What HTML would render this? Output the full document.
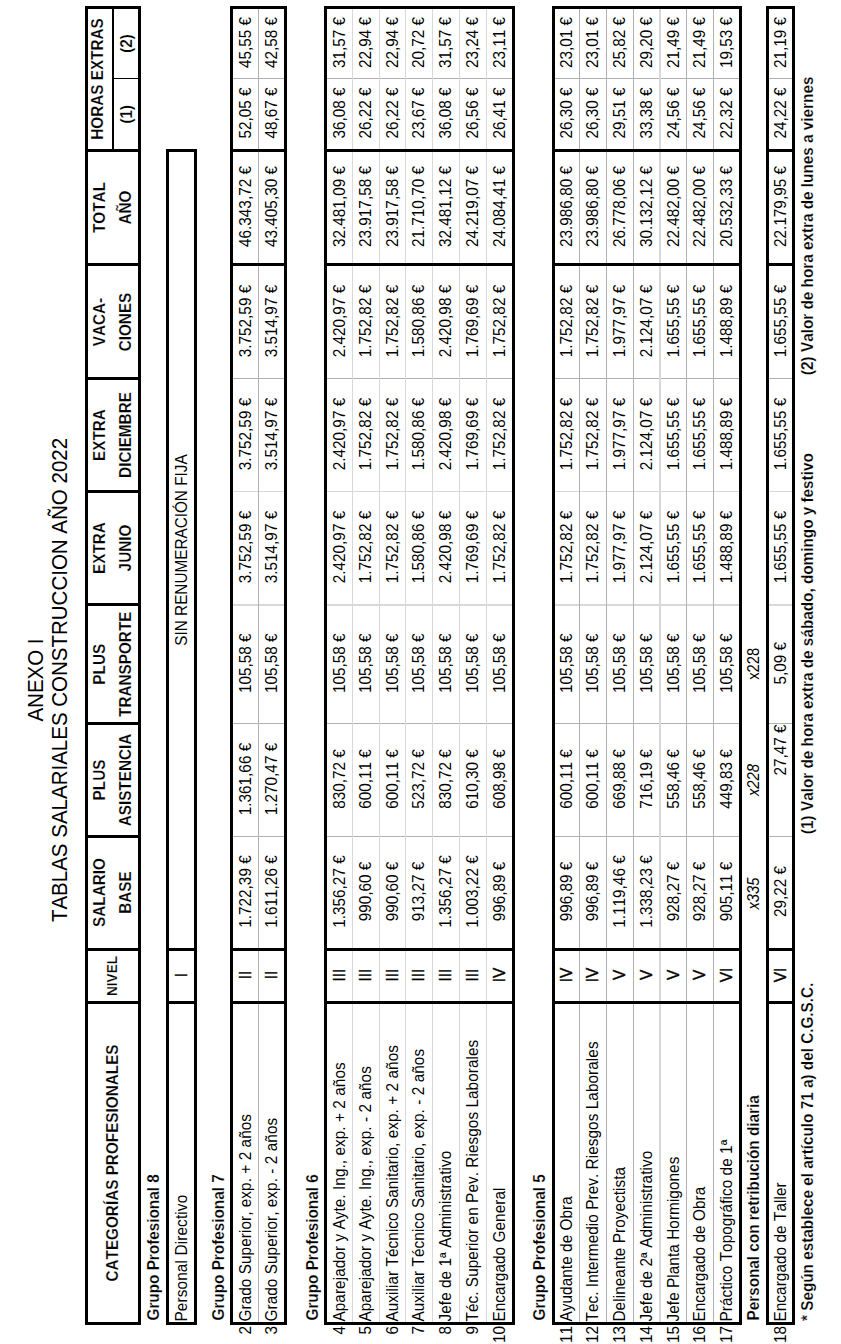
<!DOCTYPE html>
<html><head><meta charset="utf-8"><title>Anexo I - Tablas salariales construcción 2022</title>
<style>
html,body{margin:0;padding:0;background:#fff;width:841px;height:1344px;overflow:hidden}
#pg{position:absolute;left:0;top:0;width:1344px;height:841px;transform-origin:0 0;transform:translateY(1344px) rotate(-90deg);font-family:"Liberation Sans", Arial, sans-serif;color:#000}
#pg div,#pg p{position:absolute;margin:0;padding:0}
#pg p{white-space:nowrap;font-kerning:none}
</style></head><body>
<div id="pg">
<p style="left:300px;top:26.25px;width:728px;font-size:20.5px;line-height:20.5px;text-align:center;transform:scaleY(1.05);transform-origin:0 17.75px;">ANEXO I</p>
<p style="left:300px;top:50.35px;width:728px;font-size:20.5px;line-height:20.5px;text-align:center;transform:scaleY(1.05);transform-origin:0 17.75px;">TABLAS SALARIALES CONSTRUCCION AÑO 2022</p>
<div style="left:19px;top:84.5px;width:1319px;height:3px;background:#000"></div>
<div style="left:19px;top:138px;width:1319px;height:3px;background:#000"></div>
<div style="left:19px;top:84.5px;width:3px;height:56.5px;background:#000"></div>
<div style="left:1335px;top:84.5px;width:3px;height:56.5px;background:#000"></div>
<div style="left:340px;top:84.5px;width:3px;height:56.5px;background:#000"></div>
<div style="left:393px;top:84.5px;width:3px;height:56.5px;background:#000"></div>
<div style="left:506px;top:84.5px;width:3px;height:56.5px;background:#000"></div>
<div style="left:619px;top:84.5px;width:3px;height:56.5px;background:#000"></div>
<div style="left:738px;top:84.5px;width:3px;height:56.5px;background:#000"></div>
<div style="left:851px;top:84.5px;width:3px;height:56.5px;background:#000"></div>
<div style="left:964px;top:84.5px;width:3px;height:56.5px;background:#000"></div>
<div style="left:1078px;top:84.5px;width:3px;height:56.5px;background:#000"></div>
<div style="left:1192px;top:84.5px;width:3px;height:56.5px;background:#000"></div>
<div style="left:1195px;top:112px;width:140px;height:1.5px;background:#000"></div>
<div style="left:1264.5px;top:112px;width:1.3px;height:29px;background:#000"></div>
<p style="left:22px;top:104.85px;width:318px;font-size:15.3px;line-height:15.3px;text-align:center;transform:scaleY(1.08);transform-origin:0 13.15px;font-weight:bold;-webkit-text-stroke:0.18px #fff;">CATEGORÍAS PROFESIONALES</p>
<p style="left:343px;top:105.90px;width:50px;font-size:13.6px;line-height:13.6px;text-align:center;transform:scaleY(1.08);transform-origin:0 11.30px;font-weight:bold;-webkit-text-stroke:0.18px #fff;">NIVEL</p>
<p style="left:396px;top:91.65px;width:111px;font-size:15.3px;line-height:15.3px;text-align:center;transform:scaleY(1.08);transform-origin:0 13.15px;font-weight:bold;-webkit-text-stroke:0.18px #fff;">SALARIO</p>
<p style="left:396px;top:118.45px;width:111px;font-size:15.3px;line-height:15.3px;text-align:center;transform:scaleY(1.08);transform-origin:0 13.15px;font-weight:bold;-webkit-text-stroke:0.18px #fff;">BASE</p>
<p style="left:508px;top:91.65px;width:112px;font-size:15.3px;line-height:15.3px;text-align:center;transform:scaleY(1.08);transform-origin:0 13.15px;font-weight:bold;-webkit-text-stroke:0.18px #fff;">PLUS</p>
<p style="left:508px;top:118.45px;width:112px;font-size:15.3px;line-height:15.3px;text-align:center;transform:scaleY(1.08);transform-origin:0 13.15px;font-weight:bold;-webkit-text-stroke:0.18px #fff;">ASISTENCIA</p>
<p style="left:621px;top:91.65px;width:117.5px;font-size:15.3px;line-height:15.3px;text-align:center;transform:scaleY(1.08);transform-origin:0 13.15px;font-weight:bold;-webkit-text-stroke:0.18px #fff;">PLUS</p>
<p style="left:621px;top:118.45px;width:117.5px;font-size:15.3px;line-height:15.3px;text-align:center;transform:scaleY(1.08);transform-origin:0 13.15px;font-weight:bold;-webkit-text-stroke:0.18px #fff;">TRANSPORTE</p>
<p style="left:740px;top:91.65px;width:112px;font-size:15.3px;line-height:15.3px;text-align:center;transform:scaleY(1.08);transform-origin:0 13.15px;font-weight:bold;-webkit-text-stroke:0.18px #fff;">EXTRA</p>
<p style="left:740px;top:118.45px;width:112px;font-size:15.3px;line-height:15.3px;text-align:center;transform:scaleY(1.08);transform-origin:0 13.15px;font-weight:bold;-webkit-text-stroke:0.18px #fff;">JUNIO</p>
<p style="left:853px;top:91.65px;width:112px;font-size:15.3px;line-height:15.3px;text-align:center;transform:scaleY(1.08);transform-origin:0 13.15px;font-weight:bold;-webkit-text-stroke:0.18px #fff;">EXTRA</p>
<p style="left:853px;top:118.45px;width:112px;font-size:15.3px;line-height:15.3px;text-align:center;transform:scaleY(1.08);transform-origin:0 13.15px;font-weight:bold;-webkit-text-stroke:0.18px #fff;">DICIEMBRE</p>
<p style="left:966px;top:91.65px;width:112px;font-size:15.3px;line-height:15.3px;text-align:center;transform:scaleY(1.08);transform-origin:0 13.15px;font-weight:bold;-webkit-text-stroke:0.18px #fff;">VACA-</p>
<p style="left:966px;top:118.45px;width:112px;font-size:15.3px;line-height:15.3px;text-align:center;transform:scaleY(1.08);transform-origin:0 13.15px;font-weight:bold;-webkit-text-stroke:0.18px #fff;">CIONES</p>
<p style="left:1081px;top:91.65px;width:111px;font-size:15.3px;line-height:15.3px;text-align:center;transform:scaleY(1.08);transform-origin:0 13.15px;font-weight:bold;-webkit-text-stroke:0.18px #fff;">TOTAL</p>
<p style="left:1081px;top:118.45px;width:111px;font-size:15.3px;line-height:15.3px;text-align:center;transform:scaleY(1.08);transform-origin:0 13.15px;font-weight:bold;-webkit-text-stroke:0.18px #fff;">AÑO</p>
<p style="left:1195px;top:90.15px;width:140px;font-size:15.3px;line-height:15.3px;text-align:center;transform:scaleY(1.08);transform-origin:0 13.15px;font-weight:bold;-webkit-text-stroke:0.18px #fff;">HORAS EXTRAS</p>
<p style="left:1195px;top:118.65px;width:69.5px;font-size:15.3px;line-height:15.3px;text-align:center;transform:scaleY(1.08);transform-origin:0 13.15px;font-weight:bold;-webkit-text-stroke:0.18px #fff;">(1)</p>
<p style="left:1266px;top:118.65px;width:69px;font-size:15.3px;line-height:15.3px;text-align:center;transform:scaleY(1.08);transform-origin:0 13.15px;font-weight:bold;-webkit-text-stroke:0.18px #fff;">(2)</p>
<p style="left:23.5px;top:145.85px;width:576.5px;font-size:15.3px;line-height:15.3px;text-align:left;transform:scaleY(1.08);transform-origin:0 13.15px;font-weight:bold;-webkit-text-stroke:0.18px #fff;">Grupo Profesional 8</p>
<div style="left:19px;top:166.2px;width:1176px;height:3px;background:#000"></div>
<div style="left:19px;top:193.5px;width:1176px;height:3px;background:#000"></div>
<div style="left:19px;top:166.2px;width:3px;height:30.30000000000001px;background:#000"></div>
<div style="left:1192px;top:166.2px;width:3px;height:30.30000000000001px;background:#000"></div>
<div style="left:340px;top:166.2px;width:3px;height:30.30000000000001px;background:#000"></div>
<div style="left:393px;top:166.2px;width:3px;height:30.30000000000001px;background:#000"></div>
<p style="left:22.5px;top:174.05px;width:317.5px;font-size:15.3px;line-height:15.3px;text-align:left;transform:scaleY(1.08);transform-origin:0 13.15px;letter-spacing:0.15px;">Personal Directivo</p>
<p style="left:344px;top:174.05px;width:50px;font-size:15.3px;line-height:15.3px;text-align:center;transform:scaleY(1.08);transform-origin:0 13.15px;-webkit-text-stroke:0.35px #000;">I</p>
<p style="left:396px;top:174.05px;width:796px;font-size:15.3px;line-height:15.3px;text-align:center;transform:scaleY(1.08);transform-origin:0 13.15px;">SIN RENUMERACIÓN FIJA</p>
<p style="left:23.5px;top:211.45px;width:576.5px;font-size:15.3px;line-height:15.3px;text-align:left;transform:scaleY(1.08);transform-origin:0 13.15px;font-weight:bold;-webkit-text-stroke:0.18px #fff;">Grupo Profesional 7</p>
<div style="left:507px;top:230.3px;width:1px;height:56.5px;background:#b0b0b0"></div>
<div style="left:620px;top:230.3px;width:1px;height:56.5px;background:#b0b0b0"></div>
<div style="left:852px;top:230.3px;width:1px;height:56.5px;background:#d8d8d8"></div>
<div style="left:965px;top:230.3px;width:1px;height:56.5px;background:#b0b0b0"></div>
<div style="left:1265px;top:230.3px;width:1px;height:56.5px;background:#b0b0b0"></div>
<div style="left:738px;top:230.3px;width:2px;height:56.5px;background:#d8d8d8"></div>
<div style="left:22px;top:258px;width:1313px;height:1px;background:#b0b0b0"></div>
<div style="left:19px;top:230.3px;width:1319px;height:3px;background:#000"></div>
<div style="left:19px;top:283.8px;width:1319px;height:3px;background:#000"></div>
<div style="left:19px;top:230.3px;width:3px;height:56.5px;background:#000"></div>
<div style="left:1335px;top:230.3px;width:3px;height:56.5px;background:#000"></div>
<div style="left:340px;top:230.3px;width:3px;height:56.5px;background:#000"></div>
<div style="left:393px;top:230.3px;width:3px;height:56.5px;background:#000"></div>
<div style="left:1078px;top:230.3px;width:3px;height:56.5px;background:#000"></div>
<div style="left:1192px;top:230.3px;width:3px;height:56.5px;background:#000"></div>
<p style="left:0px;top:237.65px;width:18px;font-size:15.3px;line-height:15.3px;text-align:right;transform:scaleY(1.08);transform-origin:0 13.15px;">2</p>
<p style="left:22.5px;top:237.65px;width:317.5px;font-size:15.3px;line-height:15.3px;text-align:left;transform:scaleY(1.08);transform-origin:0 13.15px;letter-spacing:0.075px;">Grado Superior, exp. + 2 años</p>
<p style="left:344px;top:237.65px;width:50px;font-size:15.3px;line-height:15.3px;text-align:center;transform:scaleY(1.08);transform-origin:0 13.15px;-webkit-text-stroke:0.35px #000;">II</p>
<p style="left:397px;top:237.65px;width:111px;font-size:15.3px;line-height:15.3px;text-align:center;transform:scaleY(1.08);transform-origin:0 13.15px;">1.722,39 €</p>
<p style="left:509px;top:237.65px;width:112px;font-size:15.3px;line-height:15.3px;text-align:center;transform:scaleY(1.08);transform-origin:0 13.15px;">1.361,66 €</p>
<p style="left:622px;top:237.65px;width:117.5px;font-size:15.3px;line-height:15.3px;text-align:center;transform:scaleY(1.08);transform-origin:0 13.15px;">105,58 €</p>
<p style="left:741px;top:237.65px;width:112px;font-size:15.3px;line-height:15.3px;text-align:center;transform:scaleY(1.08);transform-origin:0 13.15px;">3.752,59 €</p>
<p style="left:854px;top:237.65px;width:112px;font-size:15.3px;line-height:15.3px;text-align:center;transform:scaleY(1.08);transform-origin:0 13.15px;">3.752,59 €</p>
<p style="left:967px;top:237.65px;width:112px;font-size:15.3px;line-height:15.3px;text-align:center;transform:scaleY(1.08);transform-origin:0 13.15px;">3.752,59 €</p>
<p style="left:1082px;top:237.65px;width:111px;font-size:15.3px;line-height:15.3px;text-align:center;transform:scaleY(1.08);transform-origin:0 13.15px;">46.343,72 €</p>
<p style="left:1196px;top:237.65px;width:70px;font-size:15.3px;line-height:15.3px;text-align:center;transform:scaleY(1.08);transform-origin:0 13.15px;">52,05 €</p>
<p style="left:1267px;top:237.65px;width:69px;font-size:15.3px;line-height:15.3px;text-align:center;transform:scaleY(1.08);transform-origin:0 13.15px;">45,55 €</p>
<p style="left:0px;top:264.35px;width:18px;font-size:15.3px;line-height:15.3px;text-align:right;transform:scaleY(1.08);transform-origin:0 13.15px;">3</p>
<p style="left:22.5px;top:264.35px;width:317.5px;font-size:15.3px;line-height:15.3px;text-align:left;transform:scaleY(1.08);transform-origin:0 13.15px;letter-spacing:0.075px;">Grado Superior, exp. - 2 años</p>
<p style="left:344px;top:264.35px;width:50px;font-size:15.3px;line-height:15.3px;text-align:center;transform:scaleY(1.08);transform-origin:0 13.15px;-webkit-text-stroke:0.35px #000;">II</p>
<p style="left:397px;top:264.35px;width:111px;font-size:15.3px;line-height:15.3px;text-align:center;transform:scaleY(1.08);transform-origin:0 13.15px;">1.611,26 €</p>
<p style="left:509px;top:264.35px;width:112px;font-size:15.3px;line-height:15.3px;text-align:center;transform:scaleY(1.08);transform-origin:0 13.15px;">1.270,47 €</p>
<p style="left:622px;top:264.35px;width:117.5px;font-size:15.3px;line-height:15.3px;text-align:center;transform:scaleY(1.08);transform-origin:0 13.15px;">105,58 €</p>
<p style="left:741px;top:264.35px;width:112px;font-size:15.3px;line-height:15.3px;text-align:center;transform:scaleY(1.08);transform-origin:0 13.15px;">3.514,97 €</p>
<p style="left:854px;top:264.35px;width:112px;font-size:15.3px;line-height:15.3px;text-align:center;transform:scaleY(1.08);transform-origin:0 13.15px;">3.514,97 €</p>
<p style="left:967px;top:264.35px;width:112px;font-size:15.3px;line-height:15.3px;text-align:center;transform:scaleY(1.08);transform-origin:0 13.15px;">3.514,97 €</p>
<p style="left:1082px;top:264.35px;width:111px;font-size:15.3px;line-height:15.3px;text-align:center;transform:scaleY(1.08);transform-origin:0 13.15px;">43.405,30 €</p>
<p style="left:1196px;top:264.35px;width:70px;font-size:15.3px;line-height:15.3px;text-align:center;transform:scaleY(1.08);transform-origin:0 13.15px;">48,67 €</p>
<p style="left:1267px;top:264.35px;width:69px;font-size:15.3px;line-height:15.3px;text-align:center;transform:scaleY(1.08);transform-origin:0 13.15px;">42,58 €</p>
<p style="left:23.5px;top:305.05px;width:576.5px;font-size:15.3px;line-height:15.3px;text-align:left;transform:scaleY(1.08);transform-origin:0 13.15px;font-weight:bold;-webkit-text-stroke:0.18px #fff;">Grupo Profesional 6</p>
<div style="left:507px;top:324.3px;width:1px;height:190.2px;background:#b0b0b0"></div>
<div style="left:620px;top:324.3px;width:1px;height:190.2px;background:#b0b0b0"></div>
<div style="left:852px;top:324.3px;width:1px;height:190.2px;background:#d8d8d8"></div>
<div style="left:965px;top:324.3px;width:1px;height:190.2px;background:#b0b0b0"></div>
<div style="left:1265px;top:324.3px;width:1px;height:190.2px;background:#b0b0b0"></div>
<div style="left:738px;top:324.3px;width:2px;height:190.2px;background:#d8d8d8"></div>
<div style="left:22px;top:352px;width:1313px;height:1px;background:#d8d8d8"></div>
<div style="left:22px;top:379px;width:1313px;height:1px;background:#d8d8d8"></div>
<div style="left:22px;top:405px;width:1313px;height:1px;background:#d8d8d8"></div>
<div style="left:22px;top:432px;width:1313px;height:1px;background:#d8d8d8"></div>
<div style="left:22px;top:459px;width:1313px;height:1px;background:#d8d8d8"></div>
<div style="left:22px;top:486px;width:1313px;height:1px;background:#d8d8d8"></div>
<div style="left:19px;top:324.3px;width:1319px;height:3px;background:#000"></div>
<div style="left:19px;top:511.5px;width:1319px;height:3px;background:#000"></div>
<div style="left:19px;top:324.3px;width:3px;height:190.2px;background:#000"></div>
<div style="left:1335px;top:324.3px;width:3px;height:190.2px;background:#000"></div>
<div style="left:340px;top:324.3px;width:3px;height:190.2px;background:#000"></div>
<div style="left:393px;top:324.3px;width:3px;height:190.2px;background:#000"></div>
<div style="left:1078px;top:324.3px;width:3px;height:190.2px;background:#000"></div>
<div style="left:1192px;top:324.3px;width:3px;height:190.2px;background:#000"></div>
<p style="left:0px;top:331.65px;width:18px;font-size:15.3px;line-height:15.3px;text-align:right;transform:scaleY(1.08);transform-origin:0 13.15px;">4</p>
<p style="left:22.5px;top:331.65px;width:317.5px;font-size:15.3px;line-height:15.3px;text-align:left;transform:scaleY(1.08);transform-origin:0 13.15px;letter-spacing:0.075px;">Aparejador y Ayte. Ing., exp. + 2 años</p>
<p style="left:344px;top:331.65px;width:50px;font-size:15.3px;line-height:15.3px;text-align:center;transform:scaleY(1.08);transform-origin:0 13.15px;-webkit-text-stroke:0.35px #000;">III</p>
<p style="left:397px;top:331.65px;width:111px;font-size:15.3px;line-height:15.3px;text-align:center;transform:scaleY(1.08);transform-origin:0 13.15px;">1.356,27 €</p>
<p style="left:509px;top:331.65px;width:112px;font-size:15.3px;line-height:15.3px;text-align:center;transform:scaleY(1.08);transform-origin:0 13.15px;">830,72 €</p>
<p style="left:622px;top:331.65px;width:117.5px;font-size:15.3px;line-height:15.3px;text-align:center;transform:scaleY(1.08);transform-origin:0 13.15px;">105,58 €</p>
<p style="left:741px;top:331.65px;width:112px;font-size:15.3px;line-height:15.3px;text-align:center;transform:scaleY(1.08);transform-origin:0 13.15px;">2.420,97 €</p>
<p style="left:854px;top:331.65px;width:112px;font-size:15.3px;line-height:15.3px;text-align:center;transform:scaleY(1.08);transform-origin:0 13.15px;">2.420,97 €</p>
<p style="left:967px;top:331.65px;width:112px;font-size:15.3px;line-height:15.3px;text-align:center;transform:scaleY(1.08);transform-origin:0 13.15px;">2.420,97 €</p>
<p style="left:1082px;top:331.65px;width:111px;font-size:15.3px;line-height:15.3px;text-align:center;transform:scaleY(1.08);transform-origin:0 13.15px;">32.481,09 €</p>
<p style="left:1196px;top:331.65px;width:70px;font-size:15.3px;line-height:15.3px;text-align:center;transform:scaleY(1.08);transform-origin:0 13.15px;">36,08 €</p>
<p style="left:1267px;top:331.65px;width:69px;font-size:15.3px;line-height:15.3px;text-align:center;transform:scaleY(1.08);transform-origin:0 13.15px;">31,57 €</p>
<p style="left:0px;top:358.35px;width:18px;font-size:15.3px;line-height:15.3px;text-align:right;transform:scaleY(1.08);transform-origin:0 13.15px;">5</p>
<p style="left:22.5px;top:358.35px;width:317.5px;font-size:15.3px;line-height:15.3px;text-align:left;transform:scaleY(1.08);transform-origin:0 13.15px;letter-spacing:0.075px;">Aparejador y Ayte. Ing., exp. - 2 años</p>
<p style="left:344px;top:358.35px;width:50px;font-size:15.3px;line-height:15.3px;text-align:center;transform:scaleY(1.08);transform-origin:0 13.15px;-webkit-text-stroke:0.35px #000;">III</p>
<p style="left:397px;top:358.35px;width:111px;font-size:15.3px;line-height:15.3px;text-align:center;transform:scaleY(1.08);transform-origin:0 13.15px;">990,60 €</p>
<p style="left:509px;top:358.35px;width:112px;font-size:15.3px;line-height:15.3px;text-align:center;transform:scaleY(1.08);transform-origin:0 13.15px;">600,11 €</p>
<p style="left:622px;top:358.35px;width:117.5px;font-size:15.3px;line-height:15.3px;text-align:center;transform:scaleY(1.08);transform-origin:0 13.15px;">105,58 €</p>
<p style="left:741px;top:358.35px;width:112px;font-size:15.3px;line-height:15.3px;text-align:center;transform:scaleY(1.08);transform-origin:0 13.15px;">1.752,82 €</p>
<p style="left:854px;top:358.35px;width:112px;font-size:15.3px;line-height:15.3px;text-align:center;transform:scaleY(1.08);transform-origin:0 13.15px;">1.752,82 €</p>
<p style="left:967px;top:358.35px;width:112px;font-size:15.3px;line-height:15.3px;text-align:center;transform:scaleY(1.08);transform-origin:0 13.15px;">1.752,82 €</p>
<p style="left:1082px;top:358.35px;width:111px;font-size:15.3px;line-height:15.3px;text-align:center;transform:scaleY(1.08);transform-origin:0 13.15px;">23.917,58 €</p>
<p style="left:1196px;top:358.35px;width:70px;font-size:15.3px;line-height:15.3px;text-align:center;transform:scaleY(1.08);transform-origin:0 13.15px;">26,22 €</p>
<p style="left:1267px;top:358.35px;width:69px;font-size:15.3px;line-height:15.3px;text-align:center;transform:scaleY(1.08);transform-origin:0 13.15px;">22,94 €</p>
<p style="left:0px;top:385.35px;width:18px;font-size:15.3px;line-height:15.3px;text-align:right;transform:scaleY(1.08);transform-origin:0 13.15px;">6</p>
<p style="left:22.5px;top:385.35px;width:317.5px;font-size:15.3px;line-height:15.3px;text-align:left;transform:scaleY(1.08);transform-origin:0 13.15px;letter-spacing:0.075px;">Auxiliar Técnico Sanitario, exp. + 2 años</p>
<p style="left:344px;top:385.35px;width:50px;font-size:15.3px;line-height:15.3px;text-align:center;transform:scaleY(1.08);transform-origin:0 13.15px;-webkit-text-stroke:0.35px #000;">III</p>
<p style="left:397px;top:385.35px;width:111px;font-size:15.3px;line-height:15.3px;text-align:center;transform:scaleY(1.08);transform-origin:0 13.15px;">990,60 €</p>
<p style="left:509px;top:385.35px;width:112px;font-size:15.3px;line-height:15.3px;text-align:center;transform:scaleY(1.08);transform-origin:0 13.15px;">600,11 €</p>
<p style="left:622px;top:385.35px;width:117.5px;font-size:15.3px;line-height:15.3px;text-align:center;transform:scaleY(1.08);transform-origin:0 13.15px;">105,58 €</p>
<p style="left:741px;top:385.35px;width:112px;font-size:15.3px;line-height:15.3px;text-align:center;transform:scaleY(1.08);transform-origin:0 13.15px;">1.752,82 €</p>
<p style="left:854px;top:385.35px;width:112px;font-size:15.3px;line-height:15.3px;text-align:center;transform:scaleY(1.08);transform-origin:0 13.15px;">1.752,82 €</p>
<p style="left:967px;top:385.35px;width:112px;font-size:15.3px;line-height:15.3px;text-align:center;transform:scaleY(1.08);transform-origin:0 13.15px;">1.752,82 €</p>
<p style="left:1082px;top:385.35px;width:111px;font-size:15.3px;line-height:15.3px;text-align:center;transform:scaleY(1.08);transform-origin:0 13.15px;">23.917,58 €</p>
<p style="left:1196px;top:385.35px;width:70px;font-size:15.3px;line-height:15.3px;text-align:center;transform:scaleY(1.08);transform-origin:0 13.15px;">26,22 €</p>
<p style="left:1267px;top:385.35px;width:69px;font-size:15.3px;line-height:15.3px;text-align:center;transform:scaleY(1.08);transform-origin:0 13.15px;">22,94 €</p>
<p style="left:0px;top:411.35px;width:18px;font-size:15.3px;line-height:15.3px;text-align:right;transform:scaleY(1.08);transform-origin:0 13.15px;">7</p>
<p style="left:22.5px;top:411.35px;width:317.5px;font-size:15.3px;line-height:15.3px;text-align:left;transform:scaleY(1.08);transform-origin:0 13.15px;letter-spacing:0.075px;">Auxiliar Técnico Sanitario, exp. - 2 años</p>
<p style="left:344px;top:411.35px;width:50px;font-size:15.3px;line-height:15.3px;text-align:center;transform:scaleY(1.08);transform-origin:0 13.15px;-webkit-text-stroke:0.35px #000;">III</p>
<p style="left:397px;top:411.35px;width:111px;font-size:15.3px;line-height:15.3px;text-align:center;transform:scaleY(1.08);transform-origin:0 13.15px;">913,27 €</p>
<p style="left:509px;top:411.35px;width:112px;font-size:15.3px;line-height:15.3px;text-align:center;transform:scaleY(1.08);transform-origin:0 13.15px;">523,72 €</p>
<p style="left:622px;top:411.35px;width:117.5px;font-size:15.3px;line-height:15.3px;text-align:center;transform:scaleY(1.08);transform-origin:0 13.15px;">105,58 €</p>
<p style="left:741px;top:411.35px;width:112px;font-size:15.3px;line-height:15.3px;text-align:center;transform:scaleY(1.08);transform-origin:0 13.15px;">1.580,86 €</p>
<p style="left:854px;top:411.35px;width:112px;font-size:15.3px;line-height:15.3px;text-align:center;transform:scaleY(1.08);transform-origin:0 13.15px;">1.580,86 €</p>
<p style="left:967px;top:411.35px;width:112px;font-size:15.3px;line-height:15.3px;text-align:center;transform:scaleY(1.08);transform-origin:0 13.15px;">1.580,86 €</p>
<p style="left:1082px;top:411.35px;width:111px;font-size:15.3px;line-height:15.3px;text-align:center;transform:scaleY(1.08);transform-origin:0 13.15px;">21.710,70 €</p>
<p style="left:1196px;top:411.35px;width:70px;font-size:15.3px;line-height:15.3px;text-align:center;transform:scaleY(1.08);transform-origin:0 13.15px;">23,67 €</p>
<p style="left:1267px;top:411.35px;width:69px;font-size:15.3px;line-height:15.3px;text-align:center;transform:scaleY(1.08);transform-origin:0 13.15px;">20,72 €</p>
<p style="left:0px;top:438.35px;width:18px;font-size:15.3px;line-height:15.3px;text-align:right;transform:scaleY(1.08);transform-origin:0 13.15px;">8</p>
<p style="left:22.5px;top:438.35px;width:317.5px;font-size:15.3px;line-height:15.3px;text-align:left;transform:scaleY(1.08);transform-origin:0 13.15px;letter-spacing:0.075px;">Jefe de 1ª Administrativo</p>
<p style="left:344px;top:438.35px;width:50px;font-size:15.3px;line-height:15.3px;text-align:center;transform:scaleY(1.08);transform-origin:0 13.15px;-webkit-text-stroke:0.35px #000;">III</p>
<p style="left:397px;top:438.35px;width:111px;font-size:15.3px;line-height:15.3px;text-align:center;transform:scaleY(1.08);transform-origin:0 13.15px;">1.356,27 €</p>
<p style="left:509px;top:438.35px;width:112px;font-size:15.3px;line-height:15.3px;text-align:center;transform:scaleY(1.08);transform-origin:0 13.15px;">830,72 €</p>
<p style="left:622px;top:438.35px;width:117.5px;font-size:15.3px;line-height:15.3px;text-align:center;transform:scaleY(1.08);transform-origin:0 13.15px;">105,58 €</p>
<p style="left:741px;top:438.35px;width:112px;font-size:15.3px;line-height:15.3px;text-align:center;transform:scaleY(1.08);transform-origin:0 13.15px;">2.420,98 €</p>
<p style="left:854px;top:438.35px;width:112px;font-size:15.3px;line-height:15.3px;text-align:center;transform:scaleY(1.08);transform-origin:0 13.15px;">2.420,98 €</p>
<p style="left:967px;top:438.35px;width:112px;font-size:15.3px;line-height:15.3px;text-align:center;transform:scaleY(1.08);transform-origin:0 13.15px;">2.420,98 €</p>
<p style="left:1082px;top:438.35px;width:111px;font-size:15.3px;line-height:15.3px;text-align:center;transform:scaleY(1.08);transform-origin:0 13.15px;">32.481,12 €</p>
<p style="left:1196px;top:438.35px;width:70px;font-size:15.3px;line-height:15.3px;text-align:center;transform:scaleY(1.08);transform-origin:0 13.15px;">36,08 €</p>
<p style="left:1267px;top:438.35px;width:69px;font-size:15.3px;line-height:15.3px;text-align:center;transform:scaleY(1.08);transform-origin:0 13.15px;">31,57 €</p>
<p style="left:0px;top:465.35px;width:18px;font-size:15.3px;line-height:15.3px;text-align:right;transform:scaleY(1.08);transform-origin:0 13.15px;">9</p>
<p style="left:22.5px;top:465.35px;width:317.5px;font-size:15.3px;line-height:15.3px;text-align:left;transform:scaleY(1.08);transform-origin:0 13.15px;letter-spacing:0.075px;">Téc. Superior en Pev. Riesgos Laborales</p>
<p style="left:344px;top:465.35px;width:50px;font-size:15.3px;line-height:15.3px;text-align:center;transform:scaleY(1.08);transform-origin:0 13.15px;-webkit-text-stroke:0.35px #000;">III</p>
<p style="left:397px;top:465.35px;width:111px;font-size:15.3px;line-height:15.3px;text-align:center;transform:scaleY(1.08);transform-origin:0 13.15px;">1.003,22 €</p>
<p style="left:509px;top:465.35px;width:112px;font-size:15.3px;line-height:15.3px;text-align:center;transform:scaleY(1.08);transform-origin:0 13.15px;">610,30 €</p>
<p style="left:622px;top:465.35px;width:117.5px;font-size:15.3px;line-height:15.3px;text-align:center;transform:scaleY(1.08);transform-origin:0 13.15px;">105,58 €</p>
<p style="left:741px;top:465.35px;width:112px;font-size:15.3px;line-height:15.3px;text-align:center;transform:scaleY(1.08);transform-origin:0 13.15px;">1.769,69 €</p>
<p style="left:854px;top:465.35px;width:112px;font-size:15.3px;line-height:15.3px;text-align:center;transform:scaleY(1.08);transform-origin:0 13.15px;">1.769,69 €</p>
<p style="left:967px;top:465.35px;width:112px;font-size:15.3px;line-height:15.3px;text-align:center;transform:scaleY(1.08);transform-origin:0 13.15px;">1.769,69 €</p>
<p style="left:1082px;top:465.35px;width:111px;font-size:15.3px;line-height:15.3px;text-align:center;transform:scaleY(1.08);transform-origin:0 13.15px;">24.219,07 €</p>
<p style="left:1196px;top:465.35px;width:70px;font-size:15.3px;line-height:15.3px;text-align:center;transform:scaleY(1.08);transform-origin:0 13.15px;">26,56 €</p>
<p style="left:1267px;top:465.35px;width:69px;font-size:15.3px;line-height:15.3px;text-align:center;transform:scaleY(1.08);transform-origin:0 13.15px;">23,24 €</p>
<p style="left:0px;top:492.35px;width:18px;font-size:15.3px;line-height:15.3px;text-align:right;transform:scaleY(1.08);transform-origin:0 13.15px;">10</p>
<p style="left:22.5px;top:492.35px;width:317.5px;font-size:15.3px;line-height:15.3px;text-align:left;transform:scaleY(1.08);transform-origin:0 13.15px;letter-spacing:0.075px;">Encargado General</p>
<p style="left:344px;top:492.35px;width:50px;font-size:15.3px;line-height:15.3px;text-align:center;transform:scaleY(1.08);transform-origin:0 13.15px;-webkit-text-stroke:0.35px #000;">IV</p>
<p style="left:397px;top:492.35px;width:111px;font-size:15.3px;line-height:15.3px;text-align:center;transform:scaleY(1.08);transform-origin:0 13.15px;">996,89 €</p>
<p style="left:509px;top:492.35px;width:112px;font-size:15.3px;line-height:15.3px;text-align:center;transform:scaleY(1.08);transform-origin:0 13.15px;">608,98 €</p>
<p style="left:622px;top:492.35px;width:117.5px;font-size:15.3px;line-height:15.3px;text-align:center;transform:scaleY(1.08);transform-origin:0 13.15px;">105,58 €</p>
<p style="left:741px;top:492.35px;width:112px;font-size:15.3px;line-height:15.3px;text-align:center;transform:scaleY(1.08);transform-origin:0 13.15px;">1.752,82 €</p>
<p style="left:854px;top:492.35px;width:112px;font-size:15.3px;line-height:15.3px;text-align:center;transform:scaleY(1.08);transform-origin:0 13.15px;">1.752,82 €</p>
<p style="left:967px;top:492.35px;width:112px;font-size:15.3px;line-height:15.3px;text-align:center;transform:scaleY(1.08);transform-origin:0 13.15px;">1.752,82 €</p>
<p style="left:1082px;top:492.35px;width:111px;font-size:15.3px;line-height:15.3px;text-align:center;transform:scaleY(1.08);transform-origin:0 13.15px;">24.084,41 €</p>
<p style="left:1196px;top:492.35px;width:70px;font-size:15.3px;line-height:15.3px;text-align:center;transform:scaleY(1.08);transform-origin:0 13.15px;">26,41 €</p>
<p style="left:1267px;top:492.35px;width:69px;font-size:15.3px;line-height:15.3px;text-align:center;transform:scaleY(1.08);transform-origin:0 13.15px;">23,11 €</p>
<p style="left:23.5px;top:532.05px;width:576.5px;font-size:15.3px;line-height:15.3px;text-align:left;transform:scaleY(1.08);transform-origin:0 13.15px;font-weight:bold;-webkit-text-stroke:0.18px #fff;">Grupo Profesional 5</p>
<div style="left:507px;top:551.5px;width:1px;height:190.5px;background:#b0b0b0"></div>
<div style="left:620px;top:551.5px;width:1px;height:190.5px;background:#b0b0b0"></div>
<div style="left:852px;top:551.5px;width:1px;height:190.5px;background:#d8d8d8"></div>
<div style="left:965px;top:551.5px;width:1px;height:190.5px;background:#b0b0b0"></div>
<div style="left:1265px;top:551.5px;width:1px;height:190.5px;background:#b0b0b0"></div>
<div style="left:738px;top:551.5px;width:2px;height:190.5px;background:#d8d8d8"></div>
<div style="left:22px;top:579px;width:1313px;height:1px;background:#b0b0b0"></div>
<div style="left:22px;top:606px;width:1313px;height:1px;background:#b0b0b0"></div>
<div style="left:22px;top:633px;width:1313px;height:1px;background:#b0b0b0"></div>
<div style="left:22px;top:659.2px;width:1313px;height:1.6px;background:#d8d8d8"></div>
<div style="left:22px;top:686px;width:1313px;height:1px;background:#b0b0b0"></div>
<div style="left:22px;top:713px;width:1313px;height:1px;background:#b0b0b0"></div>
<div style="left:19px;top:551.5px;width:1319px;height:3px;background:#000"></div>
<div style="left:19px;top:739px;width:1319px;height:3px;background:#000"></div>
<div style="left:19px;top:551.5px;width:3px;height:190.5px;background:#000"></div>
<div style="left:1335px;top:551.5px;width:3px;height:190.5px;background:#000"></div>
<div style="left:340px;top:551.5px;width:3px;height:190.5px;background:#000"></div>
<div style="left:393px;top:551.5px;width:3px;height:190.5px;background:#000"></div>
<div style="left:1078px;top:551.5px;width:3px;height:190.5px;background:#000"></div>
<div style="left:1192px;top:551.5px;width:3px;height:190.5px;background:#000"></div>
<p style="left:0px;top:558.85px;width:18px;font-size:15.3px;line-height:15.3px;text-align:right;transform:scaleY(1.08);transform-origin:0 13.15px;">11</p>
<p style="left:22.5px;top:558.85px;width:317.5px;font-size:15.3px;line-height:15.3px;text-align:left;transform:scaleY(1.08);transform-origin:0 13.15px;letter-spacing:0.075px;">Ayudante de Obra</p>
<p style="left:344px;top:558.85px;width:50px;font-size:15.3px;line-height:15.3px;text-align:center;transform:scaleY(1.08);transform-origin:0 13.15px;-webkit-text-stroke:0.35px #000;">IV</p>
<p style="left:397px;top:558.85px;width:111px;font-size:15.3px;line-height:15.3px;text-align:center;transform:scaleY(1.08);transform-origin:0 13.15px;">996,89 €</p>
<p style="left:509px;top:558.85px;width:112px;font-size:15.3px;line-height:15.3px;text-align:center;transform:scaleY(1.08);transform-origin:0 13.15px;">600,11 €</p>
<p style="left:622px;top:558.85px;width:117.5px;font-size:15.3px;line-height:15.3px;text-align:center;transform:scaleY(1.08);transform-origin:0 13.15px;">105,58 €</p>
<p style="left:741px;top:558.85px;width:112px;font-size:15.3px;line-height:15.3px;text-align:center;transform:scaleY(1.08);transform-origin:0 13.15px;">1.752,82 €</p>
<p style="left:854px;top:558.85px;width:112px;font-size:15.3px;line-height:15.3px;text-align:center;transform:scaleY(1.08);transform-origin:0 13.15px;">1.752,82 €</p>
<p style="left:967px;top:558.85px;width:112px;font-size:15.3px;line-height:15.3px;text-align:center;transform:scaleY(1.08);transform-origin:0 13.15px;">1.752,82 €</p>
<p style="left:1082px;top:558.85px;width:111px;font-size:15.3px;line-height:15.3px;text-align:center;transform:scaleY(1.08);transform-origin:0 13.15px;">23.986,80 €</p>
<p style="left:1196px;top:558.85px;width:70px;font-size:15.3px;line-height:15.3px;text-align:center;transform:scaleY(1.08);transform-origin:0 13.15px;">26,30 €</p>
<p style="left:1267px;top:558.85px;width:69px;font-size:15.3px;line-height:15.3px;text-align:center;transform:scaleY(1.08);transform-origin:0 13.15px;">23,01 €</p>
<p style="left:0px;top:585.35px;width:18px;font-size:15.3px;line-height:15.3px;text-align:right;transform:scaleY(1.08);transform-origin:0 13.15px;">12</p>
<p style="left:22.5px;top:585.35px;width:317.5px;font-size:15.3px;line-height:15.3px;text-align:left;transform:scaleY(1.08);transform-origin:0 13.15px;letter-spacing:0.075px;">Tec. Intermedio Prev. Riesgos Laborales</p>
<p style="left:344px;top:585.35px;width:50px;font-size:15.3px;line-height:15.3px;text-align:center;transform:scaleY(1.08);transform-origin:0 13.15px;-webkit-text-stroke:0.35px #000;">IV</p>
<p style="left:397px;top:585.35px;width:111px;font-size:15.3px;line-height:15.3px;text-align:center;transform:scaleY(1.08);transform-origin:0 13.15px;">996,89 €</p>
<p style="left:509px;top:585.35px;width:112px;font-size:15.3px;line-height:15.3px;text-align:center;transform:scaleY(1.08);transform-origin:0 13.15px;">600,11 €</p>
<p style="left:622px;top:585.35px;width:117.5px;font-size:15.3px;line-height:15.3px;text-align:center;transform:scaleY(1.08);transform-origin:0 13.15px;">105,58 €</p>
<p style="left:741px;top:585.35px;width:112px;font-size:15.3px;line-height:15.3px;text-align:center;transform:scaleY(1.08);transform-origin:0 13.15px;">1.752,82 €</p>
<p style="left:854px;top:585.35px;width:112px;font-size:15.3px;line-height:15.3px;text-align:center;transform:scaleY(1.08);transform-origin:0 13.15px;">1.752,82 €</p>
<p style="left:967px;top:585.35px;width:112px;font-size:15.3px;line-height:15.3px;text-align:center;transform:scaleY(1.08);transform-origin:0 13.15px;">1.752,82 €</p>
<p style="left:1082px;top:585.35px;width:111px;font-size:15.3px;line-height:15.3px;text-align:center;transform:scaleY(1.08);transform-origin:0 13.15px;">23.986,80 €</p>
<p style="left:1196px;top:585.35px;width:70px;font-size:15.3px;line-height:15.3px;text-align:center;transform:scaleY(1.08);transform-origin:0 13.15px;">26,30 €</p>
<p style="left:1267px;top:585.35px;width:69px;font-size:15.3px;line-height:15.3px;text-align:center;transform:scaleY(1.08);transform-origin:0 13.15px;">23,01 €</p>
<p style="left:0px;top:612.35px;width:18px;font-size:15.3px;line-height:15.3px;text-align:right;transform:scaleY(1.08);transform-origin:0 13.15px;">13</p>
<p style="left:22.5px;top:612.35px;width:317.5px;font-size:15.3px;line-height:15.3px;text-align:left;transform:scaleY(1.08);transform-origin:0 13.15px;letter-spacing:0.075px;">Delineante Proyectista</p>
<p style="left:344px;top:612.35px;width:50px;font-size:15.3px;line-height:15.3px;text-align:center;transform:scaleY(1.08);transform-origin:0 13.15px;-webkit-text-stroke:0.35px #000;">V</p>
<p style="left:397px;top:612.35px;width:111px;font-size:15.3px;line-height:15.3px;text-align:center;transform:scaleY(1.08);transform-origin:0 13.15px;">1.119,46 €</p>
<p style="left:509px;top:612.35px;width:112px;font-size:15.3px;line-height:15.3px;text-align:center;transform:scaleY(1.08);transform-origin:0 13.15px;">669,88 €</p>
<p style="left:622px;top:612.35px;width:117.5px;font-size:15.3px;line-height:15.3px;text-align:center;transform:scaleY(1.08);transform-origin:0 13.15px;">105,58 €</p>
<p style="left:741px;top:612.35px;width:112px;font-size:15.3px;line-height:15.3px;text-align:center;transform:scaleY(1.08);transform-origin:0 13.15px;">1.977,97 €</p>
<p style="left:854px;top:612.35px;width:112px;font-size:15.3px;line-height:15.3px;text-align:center;transform:scaleY(1.08);transform-origin:0 13.15px;">1.977,97 €</p>
<p style="left:967px;top:612.35px;width:112px;font-size:15.3px;line-height:15.3px;text-align:center;transform:scaleY(1.08);transform-origin:0 13.15px;">1.977,97 €</p>
<p style="left:1082px;top:612.35px;width:111px;font-size:15.3px;line-height:15.3px;text-align:center;transform:scaleY(1.08);transform-origin:0 13.15px;">26.778,06 €</p>
<p style="left:1196px;top:612.35px;width:70px;font-size:15.3px;line-height:15.3px;text-align:center;transform:scaleY(1.08);transform-origin:0 13.15px;">29,51 €</p>
<p style="left:1267px;top:612.35px;width:69px;font-size:15.3px;line-height:15.3px;text-align:center;transform:scaleY(1.08);transform-origin:0 13.15px;">25,82 €</p>
<p style="left:0px;top:639.35px;width:18px;font-size:15.3px;line-height:15.3px;text-align:right;transform:scaleY(1.08);transform-origin:0 13.15px;">14</p>
<p style="left:22.5px;top:639.35px;width:317.5px;font-size:15.3px;line-height:15.3px;text-align:left;transform:scaleY(1.08);transform-origin:0 13.15px;letter-spacing:0.075px;">Jefe de 2ª Administrativo</p>
<p style="left:344px;top:639.35px;width:50px;font-size:15.3px;line-height:15.3px;text-align:center;transform:scaleY(1.08);transform-origin:0 13.15px;-webkit-text-stroke:0.35px #000;">V</p>
<p style="left:397px;top:639.35px;width:111px;font-size:15.3px;line-height:15.3px;text-align:center;transform:scaleY(1.08);transform-origin:0 13.15px;">1.338,23 €</p>
<p style="left:509px;top:639.35px;width:112px;font-size:15.3px;line-height:15.3px;text-align:center;transform:scaleY(1.08);transform-origin:0 13.15px;">716,19 €</p>
<p style="left:622px;top:639.35px;width:117.5px;font-size:15.3px;line-height:15.3px;text-align:center;transform:scaleY(1.08);transform-origin:0 13.15px;">105,58 €</p>
<p style="left:741px;top:639.35px;width:112px;font-size:15.3px;line-height:15.3px;text-align:center;transform:scaleY(1.08);transform-origin:0 13.15px;">2.124,07 €</p>
<p style="left:854px;top:639.35px;width:112px;font-size:15.3px;line-height:15.3px;text-align:center;transform:scaleY(1.08);transform-origin:0 13.15px;">2.124,07 €</p>
<p style="left:967px;top:639.35px;width:112px;font-size:15.3px;line-height:15.3px;text-align:center;transform:scaleY(1.08);transform-origin:0 13.15px;">2.124,07 €</p>
<p style="left:1082px;top:639.35px;width:111px;font-size:15.3px;line-height:15.3px;text-align:center;transform:scaleY(1.08);transform-origin:0 13.15px;">30.132,12 €</p>
<p style="left:1196px;top:639.35px;width:70px;font-size:15.3px;line-height:15.3px;text-align:center;transform:scaleY(1.08);transform-origin:0 13.15px;">33,38 €</p>
<p style="left:1267px;top:639.35px;width:69px;font-size:15.3px;line-height:15.3px;text-align:center;transform:scaleY(1.08);transform-origin:0 13.15px;">29,20 €</p>
<p style="left:0px;top:665.55px;width:18px;font-size:15.3px;line-height:15.3px;text-align:right;transform:scaleY(1.08);transform-origin:0 13.15px;">15</p>
<p style="left:22.5px;top:665.55px;width:317.5px;font-size:15.3px;line-height:15.3px;text-align:left;transform:scaleY(1.08);transform-origin:0 13.15px;letter-spacing:0.075px;">Jefe Planta Hormigones</p>
<p style="left:344px;top:665.55px;width:50px;font-size:15.3px;line-height:15.3px;text-align:center;transform:scaleY(1.08);transform-origin:0 13.15px;-webkit-text-stroke:0.35px #000;">V</p>
<p style="left:397px;top:665.55px;width:111px;font-size:15.3px;line-height:15.3px;text-align:center;transform:scaleY(1.08);transform-origin:0 13.15px;">928,27 €</p>
<p style="left:509px;top:665.55px;width:112px;font-size:15.3px;line-height:15.3px;text-align:center;transform:scaleY(1.08);transform-origin:0 13.15px;">558,46 €</p>
<p style="left:622px;top:665.55px;width:117.5px;font-size:15.3px;line-height:15.3px;text-align:center;transform:scaleY(1.08);transform-origin:0 13.15px;">105,58 €</p>
<p style="left:741px;top:665.55px;width:112px;font-size:15.3px;line-height:15.3px;text-align:center;transform:scaleY(1.08);transform-origin:0 13.15px;">1.655,55 €</p>
<p style="left:854px;top:665.55px;width:112px;font-size:15.3px;line-height:15.3px;text-align:center;transform:scaleY(1.08);transform-origin:0 13.15px;">1.655,55 €</p>
<p style="left:967px;top:665.55px;width:112px;font-size:15.3px;line-height:15.3px;text-align:center;transform:scaleY(1.08);transform-origin:0 13.15px;">1.655,55 €</p>
<p style="left:1082px;top:665.55px;width:111px;font-size:15.3px;line-height:15.3px;text-align:center;transform:scaleY(1.08);transform-origin:0 13.15px;">22.482,00 €</p>
<p style="left:1196px;top:665.55px;width:70px;font-size:15.3px;line-height:15.3px;text-align:center;transform:scaleY(1.08);transform-origin:0 13.15px;">24,56 €</p>
<p style="left:1267px;top:665.55px;width:69px;font-size:15.3px;line-height:15.3px;text-align:center;transform:scaleY(1.08);transform-origin:0 13.15px;">21,49 €</p>
<p style="left:0px;top:692.35px;width:18px;font-size:15.3px;line-height:15.3px;text-align:right;transform:scaleY(1.08);transform-origin:0 13.15px;">16</p>
<p style="left:22.5px;top:692.35px;width:317.5px;font-size:15.3px;line-height:15.3px;text-align:left;transform:scaleY(1.08);transform-origin:0 13.15px;letter-spacing:0.075px;">Encargado de Obra</p>
<p style="left:344px;top:692.35px;width:50px;font-size:15.3px;line-height:15.3px;text-align:center;transform:scaleY(1.08);transform-origin:0 13.15px;-webkit-text-stroke:0.35px #000;">V</p>
<p style="left:397px;top:692.35px;width:111px;font-size:15.3px;line-height:15.3px;text-align:center;transform:scaleY(1.08);transform-origin:0 13.15px;">928,27 €</p>
<p style="left:509px;top:692.35px;width:112px;font-size:15.3px;line-height:15.3px;text-align:center;transform:scaleY(1.08);transform-origin:0 13.15px;">558,46 €</p>
<p style="left:622px;top:692.35px;width:117.5px;font-size:15.3px;line-height:15.3px;text-align:center;transform:scaleY(1.08);transform-origin:0 13.15px;">105,58 €</p>
<p style="left:741px;top:692.35px;width:112px;font-size:15.3px;line-height:15.3px;text-align:center;transform:scaleY(1.08);transform-origin:0 13.15px;">1.655,55 €</p>
<p style="left:854px;top:692.35px;width:112px;font-size:15.3px;line-height:15.3px;text-align:center;transform:scaleY(1.08);transform-origin:0 13.15px;">1.655,55 €</p>
<p style="left:967px;top:692.35px;width:112px;font-size:15.3px;line-height:15.3px;text-align:center;transform:scaleY(1.08);transform-origin:0 13.15px;">1.655,55 €</p>
<p style="left:1082px;top:692.35px;width:111px;font-size:15.3px;line-height:15.3px;text-align:center;transform:scaleY(1.08);transform-origin:0 13.15px;">22.482,00 €</p>
<p style="left:1196px;top:692.35px;width:70px;font-size:15.3px;line-height:15.3px;text-align:center;transform:scaleY(1.08);transform-origin:0 13.15px;">24,56 €</p>
<p style="left:1267px;top:692.35px;width:69px;font-size:15.3px;line-height:15.3px;text-align:center;transform:scaleY(1.08);transform-origin:0 13.15px;">21,49 €</p>
<p style="left:0px;top:719.35px;width:18px;font-size:15.3px;line-height:15.3px;text-align:right;transform:scaleY(1.08);transform-origin:0 13.15px;">17</p>
<p style="left:22.5px;top:719.35px;width:317.5px;font-size:15.3px;line-height:15.3px;text-align:left;transform:scaleY(1.08);transform-origin:0 13.15px;letter-spacing:0.075px;">Práctico Topográfico de 1ª</p>
<p style="left:344px;top:719.35px;width:50px;font-size:15.3px;line-height:15.3px;text-align:center;transform:scaleY(1.08);transform-origin:0 13.15px;-webkit-text-stroke:0.35px #000;">VI</p>
<p style="left:397px;top:719.35px;width:111px;font-size:15.3px;line-height:15.3px;text-align:center;transform:scaleY(1.08);transform-origin:0 13.15px;">905,11 €</p>
<p style="left:509px;top:719.35px;width:112px;font-size:15.3px;line-height:15.3px;text-align:center;transform:scaleY(1.08);transform-origin:0 13.15px;">449,83 €</p>
<p style="left:622px;top:719.35px;width:117.5px;font-size:15.3px;line-height:15.3px;text-align:center;transform:scaleY(1.08);transform-origin:0 13.15px;">105,58 €</p>
<p style="left:741px;top:719.35px;width:112px;font-size:15.3px;line-height:15.3px;text-align:center;transform:scaleY(1.08);transform-origin:0 13.15px;">1.488,89 €</p>
<p style="left:854px;top:719.35px;width:112px;font-size:15.3px;line-height:15.3px;text-align:center;transform:scaleY(1.08);transform-origin:0 13.15px;">1.488,89 €</p>
<p style="left:967px;top:719.35px;width:112px;font-size:15.3px;line-height:15.3px;text-align:center;transform:scaleY(1.08);transform-origin:0 13.15px;">1.488,89 €</p>
<p style="left:1082px;top:719.35px;width:111px;font-size:15.3px;line-height:15.3px;text-align:center;transform:scaleY(1.08);transform-origin:0 13.15px;">20.532,33 €</p>
<p style="left:1196px;top:719.35px;width:70px;font-size:15.3px;line-height:15.3px;text-align:center;transform:scaleY(1.08);transform-origin:0 13.15px;">22,32 €</p>
<p style="left:1267px;top:719.35px;width:69px;font-size:15.3px;line-height:15.3px;text-align:center;transform:scaleY(1.08);transform-origin:0 13.15px;">19,53 €</p>
<p style="left:23.5px;top:746.05px;width:576.5px;font-size:15.3px;line-height:15.3px;text-align:left;transform:scaleY(1.08);transform-origin:0 13.15px;font-weight:bold;-webkit-text-stroke:0.18px #fff;">Personal con retribución diaria</p>
<p style="left:395px;top:746.80px;width:111px;font-size:14.8px;line-height:14.8px;text-align:center;transform:scaleY(1.08);transform-origin:0 12.40px;font-style:italic;">x335</p>
<p style="left:508px;top:746.80px;width:112px;font-size:14.8px;line-height:14.8px;text-align:center;transform:scaleY(1.08);transform-origin:0 12.40px;font-style:italic;">x228</p>
<p style="left:621.5px;top:746.80px;width:117.5px;font-size:14.8px;line-height:14.8px;text-align:center;transform:scaleY(1.08);transform-origin:0 12.40px;">x228</p>
<div style="left:507px;top:765.8px;width:1px;height:29.200000000000045px;background:#b0b0b0"></div>
<div style="left:620px;top:765.8px;width:1px;height:29.200000000000045px;background:#b0b0b0"></div>
<div style="left:852px;top:765.8px;width:1px;height:29.200000000000045px;background:#d8d8d8"></div>
<div style="left:965px;top:765.8px;width:1px;height:29.200000000000045px;background:#b0b0b0"></div>
<div style="left:1265px;top:765.8px;width:1px;height:29.200000000000045px;background:#b0b0b0"></div>
<div style="left:738px;top:765.8px;width:2px;height:29.200000000000045px;background:#d8d8d8"></div>
<div style="left:19px;top:765.8px;width:1319px;height:3px;background:#000"></div>
<div style="left:19px;top:792px;width:1319px;height:3px;background:#000"></div>
<div style="left:19px;top:765.8px;width:3px;height:29.200000000000045px;background:#000"></div>
<div style="left:1335px;top:765.8px;width:3px;height:29.200000000000045px;background:#000"></div>
<div style="left:340px;top:765.8px;width:3px;height:29.200000000000045px;background:#000"></div>
<div style="left:393px;top:765.8px;width:3px;height:29.200000000000045px;background:#000"></div>
<div style="left:1078px;top:765.8px;width:3px;height:29.200000000000045px;background:#000"></div>
<div style="left:1192px;top:765.8px;width:3px;height:29.200000000000045px;background:#000"></div>
<p style="left:0px;top:773.15px;width:18px;font-size:15.3px;line-height:15.3px;text-align:right;transform:scaleY(1.08);transform-origin:0 13.15px;">18</p>
<p style="left:22.5px;top:773.15px;width:317.5px;font-size:15.3px;line-height:15.3px;text-align:left;transform:scaleY(1.08);transform-origin:0 13.15px;letter-spacing:0.075px;">Encargado de Taller</p>
<p style="left:344px;top:773.15px;width:50px;font-size:15.3px;line-height:15.3px;text-align:center;transform:scaleY(1.08);transform-origin:0 13.15px;-webkit-text-stroke:0.35px #000;">VI</p>
<p style="left:397px;top:773.15px;width:111px;font-size:15.3px;line-height:15.3px;text-align:center;transform:scaleY(1.08);transform-origin:0 13.15px;">29,22 €</p>
<p style="left:508px;top:773.15px;width:111.5px;font-size:15.3px;line-height:15.3px;text-align:right;transform:scaleY(1.08);transform-origin:0 13.15px;">27,47 €</p>
<p style="left:622px;top:773.15px;width:117.5px;font-size:15.3px;line-height:15.3px;text-align:center;transform:scaleY(1.08);transform-origin:0 13.15px;">5,09 €</p>
<p style="left:741px;top:773.15px;width:112px;font-size:15.3px;line-height:15.3px;text-align:center;transform:scaleY(1.08);transform-origin:0 13.15px;">1.655,55 €</p>
<p style="left:854px;top:773.15px;width:112px;font-size:15.3px;line-height:15.3px;text-align:center;transform:scaleY(1.08);transform-origin:0 13.15px;">1.655,55 €</p>
<p style="left:967px;top:773.15px;width:112px;font-size:15.3px;line-height:15.3px;text-align:center;transform:scaleY(1.08);transform-origin:0 13.15px;">1.655,55 €</p>
<p style="left:1082px;top:773.15px;width:111px;font-size:15.3px;line-height:15.3px;text-align:center;transform:scaleY(1.08);transform-origin:0 13.15px;">22.179,95 €</p>
<p style="left:1196px;top:773.15px;width:70px;font-size:15.3px;line-height:15.3px;text-align:center;transform:scaleY(1.08);transform-origin:0 13.15px;">24,22 €</p>
<p style="left:1267px;top:773.15px;width:69px;font-size:15.3px;line-height:15.3px;text-align:center;transform:scaleY(1.08);transform-origin:0 13.15px;">21,19 €</p>
<p style="left:23px;top:799.95px;width:577px;font-size:15.3px;line-height:15.3px;text-align:left;transform:scaleY(1.08);transform-origin:0 13.15px;font-weight:bold;-webkit-text-stroke:0.18px #fff;">* Según establece el artículo 71 a) del C.G.S.C.</p>
<p style="left:510px;top:799.95px;width:490px;font-size:15.3px;line-height:15.3px;text-align:left;transform:scaleY(1.08);transform-origin:0 13.15px;font-weight:bold;-webkit-text-stroke:0.18px #fff;">(1) Valor de hora extra de sábado, domingo y festivo</p>
<p style="left:969px;top:799.95px;width:371px;font-size:15.3px;line-height:15.3px;text-align:left;transform:scaleY(1.08);transform-origin:0 13.15px;font-weight:bold;-webkit-text-stroke:0.18px #fff;">(2) Valor de hora extra de lunes a viernes</p>
</div>
</body></html>
